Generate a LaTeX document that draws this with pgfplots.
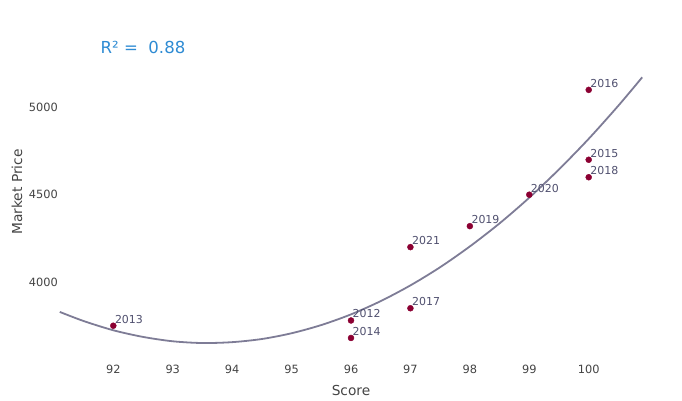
\documentclass[border=0pt]{standalone}
\usepackage{fontspec}
\setmainfont{DejaVu Sans}
\usepackage{pgfplots}
\pgfplotsset{compat=1.18}
\definecolor{tickc}{HTML}{444444}
\definecolor{labc}{HTML}{4F4F6E}
\definecolor{markc}{HTML}{8B0032}
\definecolor{curvec}{HTML}{7E7C96}
\definecolor{rblue}{HTML}{2E8BD3}
\begin{document}
\begin{tikzpicture}[x=1bp,y=1bp]
\path[use as bounding box] (0,0) rectangle (682,400);
\begin{axis}[
  at={(60bp,43bp)}, anchor=south west,
  scale only axis, width=582bp, height=337bp,
  xmin=91.103, xmax=100.897, ymin=3571, ymax=5500,
  axis line style={draw=none}, tick style={draw=none}, major tick length=0pt,
  xtick={92,93,...,100}, ytick={4000,4500,5000},
  /pgf/number format/assume math mode=true,
  /pgf/number format/1000 sep={},
  ticklabel style={font=\fontsize{11.4}{13}\selectfont, text=tickc, inner sep=0pt},
  xticklabel style={anchor=center, yshift=-12bp},
  yticklabel style={anchor=east, xshift=-2bp},
  clip=false,
]
\addplot[curvec, line width=1.8bp, smooth] coordinates {
(91.1,3829) (91.5,3777) (92,3724) (92.5,3686) (93,3661) (93.5,3651)
(94,3656) (94.5,3674) (95,3707) (95.5,3754) (96,3815) (96.5,3891)
(97,3981) (97.5,4085) (98,4204) (98.5,4336) (99,4483) (99.5,4645)
(100,4820) (100.5,5010) (100.9,5172)};
\addplot[only marks, mark=*, mark size=3bp, mark options={fill=markc, draw=markc},
  point meta=explicit symbolic,
  nodes near coords,
  nodes near coords style={anchor=base west, xshift=1.5bp, yshift=2.5bp, inner sep=0pt,
    font=\fontsize{11}{12}\selectfont, text=labc}]
  table[meta=label] {
x y label
96 3780 2012
92 3750 2013
96 3680 2014
100 4700 2015
100 5100 2016
97 3850 2017
100 4600 2018
98 4320 2019
99 4500 2020
97 4200 2021
};
\node[font=\fontsize{16.6}{18}\selectfont, text=rblue, anchor=center] at (axis cs:92.5,5345) {R² =\ \ 0.88};
\end{axis}
\node[font=\fontsize{13.8}{15}\selectfont, text=tickc] at (351,10) {Score};
\node[font=\fontsize{13.8}{15}\selectfont, text=tickc, rotate=90] at (17,208) {Market Price};
\end{tikzpicture}
\end{document}
